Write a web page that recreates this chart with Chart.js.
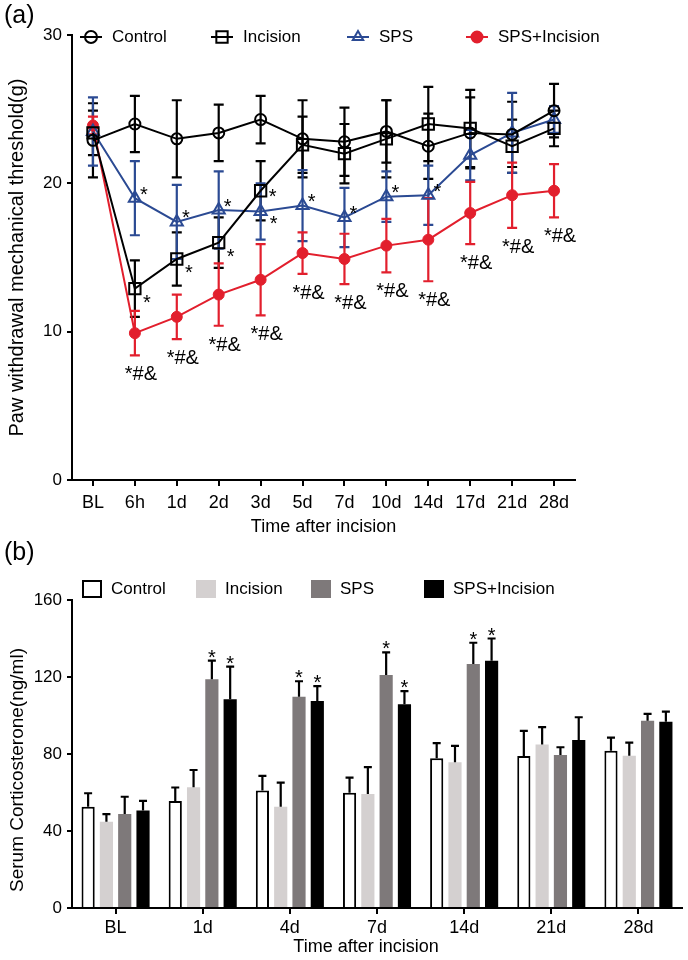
<!DOCTYPE html>
<html><head><meta charset="utf-8">
<script src="https://cdn.jsdelivr.net/npm/chart.js@4.4.1/dist/chart.umd.min.js"></script>
<style>
html,body{margin:0;padding:0;background:#fff;}
#wrap{position:relative;width:688px;height:960px;background:#fff;}
.box{position:absolute;left:0;width:688px;}
</style></head><body>
<div id="wrap">
<div class="box" style="top:0;height:540px"><canvas id="ca" width="688" height="540"></canvas></div>
<div class="box" style="top:540px;height:420px"><canvas id="cb" width="688" height="420"></canvas></div>
</div>
<script>
// ---------- Panel (a) data ----------
const timePointsA = ['BL','6h','1d','2d','3d','5d','7d','10d','14d','17d','21d','28d'];
const controlA     = [22.9, 24.0, 23.0, 23.4, 24.3, 23.0, 22.8, 23.5, 22.5, 23.4, 23.3, 24.9];
const controlAErr  = [2.5, 1.9, 2.6, 1.9, 1.6, 2.6, 2.3, 2.1, 2.2, 2.4, 2.2, 1.8];
const incisionA    = [23.4, 12.9, 14.9, 16.0, 19.5, 22.6, 22.0, 23.0, 24.0, 23.7, 22.5, 23.7];
const incisionAErr = [1.5, 1.9, 1.8, 1.7, 2.0, 1.9, 2.0, 2.6, 2.5, 2.6, 1.8, 1.2];
const spsA         = [23.5, 19.0, 17.4, 18.2, 18.1, 18.5, 17.7, 19.1, 19.2, 21.9, 23.4, 24.3];
const spsAErr      = [2.3, 2.5, 2.5, 2.6, 1.9, 2.4, 2.0, 1.7, 2.0, 1.7, 2.7, 0.9];
const spsIncA      = [23.9, 9.9, 11.0, 12.5, 13.5, 15.3, 14.9, 15.8, 16.2, 18.0, 19.2, 19.5];
const spsIncAErr   = [0.6, 1.5, 1.5, 2.1, 2.4, 1.4, 1.7, 1.8, 2.8, 2.1, 2.2, 1.8];
const sigIncisionA = ['', '*', '*', '*', '*', '', '', '', '', '', '', ''];
const sigSpsA      = ['', '*', '*', '*', '*', '*', '*', '*', '*', '', '', ''];
const sigSpsIncA   = ['', '*#&', '*#&', '*#&', '*#&', '*#&', '*#&', '*#&', '*#&', '*#&', '*#&', '*#&'];
const yTicksA = [0, 10, 20, 30];

// ---------- Panel (b) data ----------
const timePointsB = ['BL','1d','4d','7d','14d','21d','28d'];
const controlB     = [52.6, 55.6, 61.0, 59.9, 77.8, 79.0, 81.7];
const controlBErr  = [7.0, 7.0, 7.6, 7.8, 7.8, 13.0, 6.8];
const incisionB    = [44.8, 62.7, 52.6, 59.2, 75.7, 85.0, 79.1];
const incisionBErr = [4.0, 9.0, 12.5, 14.0, 8.5, 9.0, 6.8];
const spsB         = [48.8, 118.8, 109.8, 121.0, 126.8, 79.5, 97.3];
const spsBErr      = [9.0, 9.7, 8.0, 11.8, 11.0, 4.0, 3.5];
const spsIncB      = [50.6, 108.4, 107.5, 105.8, 128.5, 87.3, 96.8];
const spsIncBErr   = [5.0, 17.0, 7.8, 6.9, 11.5, 11.8, 5.2];
const sigSpsB      = ['', '*', '*', '*', '*', '', ''];
const sigSpsIncB   = ['', '*', '*', '*', '*', '', ''];
const yTicksB = [0, 40, 80, 120, 160];

const FONT = "'Liberation Sans', Arial, Helvetica, sans-serif";
Chart.defaults.font.family = FONT;
Chart.defaults.color = '#000';

const BLUE = '#2b4a93', RED = '#e21f2d';

function drawMarker(ctx, style, x, y, r, stroke, fill, bw) {
  ctx.save();
  ctx.lineWidth = bw; ctx.strokeStyle = stroke; ctx.fillStyle = fill;
  ctx.beginPath();
  if (style === 'circle') {
    ctx.arc(x, y, r, 0, Math.PI * 2);
  } else if (style === 'rect') {
    const s = r * Math.SQRT1_2;
    ctx.rect(x - s, y - s, 2 * s, 2 * s);
  } else if (style === 'triangle') {
    let a = 0;
    for (let k = 0; k < 3; k++) {
      const px = x + Math.sin(a) * r, py = y - Math.cos(a) * r;
      if (k === 0) ctx.moveTo(px, py); else ctx.lineTo(px, py);
      a += 2 * Math.PI / 3;
    }
    ctx.closePath();
  }
  ctx.fill(); ctx.stroke();
  ctx.restore();
}

// error bars plugin (both directions for lines, upward for bars)
const errorBars = {
  id: 'errorBars',
  beforeDatasetsDraw(chart) {
    if (chart.config.type !== 'line') return;
    drawErrors(chart);
  },
  afterDatasetsDraw(chart) {
    if (chart.config.type !== 'bar') return;
    drawErrors(chart);
  }
};
function drawErrors(chart) {
  const ctx = chart.ctx, ys = chart.scales.y;
  chart.data.datasets.forEach((ds, di) => {
    if (!ds.errors) return;
    const meta = chart.getDatasetMeta(di);
    ctx.save();
    ctx.strokeStyle = ds.errorColor; ctx.lineCap = 'butt';
    const cap = ds.capHalf;
    meta.data.forEach((el, i) => {
      const v = ds.data[i], e = ds.errors[i];
      const x = el.x;
      const top = ys.getPixelForValue(v + e);
      const bot = ds.errorUpOnly ? ys.getPixelForValue(v) : ys.getPixelForValue(v - e);
      ctx.beginPath();
      ctx.moveTo(x, bot); ctx.lineTo(x, top);
      ctx.moveTo(x - cap, top); ctx.lineTo(x + cap, top);
      if (!ds.errorUpOnly) { ctx.moveTo(x - cap, bot); ctx.lineTo(x + cap, bot); }
      ctx.lineWidth = 2.2;
      ctx.stroke();
    });
    ctx.restore();
  });
}

// significance annotations for panel (a)
const sigA = {
  id: 'sigA',
  afterDatasetsDraw(chart) {
    const ctx = chart.ctx, ys = chart.scales.y;
    const mInc = chart.getDatasetMeta(1), mSps = chart.getDatasetMeta(2), mRed = chart.getDatasetMeta(3);
    ctx.save();
    ctx.fillStyle = '#000';
    ctx.font = '20px ' + FONT;
    ctx.textBaseline = 'alphabetic';
    ctx.textAlign = 'center';
    // Incision stars
    sigIncisionA.forEach((s, i) => {
      if (!s) return;
      const el = mInc.data[i];
      const close = Math.abs(incisionA[i] - spsA[i]) < 2;
      ctx.fillText(s, el.x + 12, el.y + (close ? 1 : 9) + 11.5);
    });
    // SPS stars
    sigSpsA.forEach((s, i) => {
      if (!s) return;
      const el = mSps.data[i];
      const close = Math.abs(incisionA[i] - spsA[i]) < 2;
      ctx.fillText(s, el.x + (close ? 13 : 9), el.y + (close ? 7 : -9) + 11.5);
    });
    // SPS+Incision labels under the lower whisker
    sigSpsIncA.forEach((s, i) => {
      if (!s) return;
      const el = mRed.data[i];
      const low = ys.getPixelForValue(spsIncA[i] - spsIncAErr[i]);
      ctx.fillText(s, el.x + 6, low + 25);
    });
    ctx.restore();
  }
};

const legendA = {
  id: 'legendA',
  afterDraw(chart) {
    const ctx = chart.ctx;
    const xs = [91, 222, 358, 477];
    const y = 37;
    chart.data.datasets.forEach((ds, i) => {
      const cx = xs[i];
      ctx.save();
      ctx.strokeStyle = ds.borderColor; ctx.lineWidth = 2;
      ctx.beginPath(); ctx.moveTo(cx - 11, y); ctx.lineTo(cx + 11, y); ctx.stroke();
      drawMarker(ctx, ds.pointStyle, cx, y, ds.legendRadius, ds.pointBorderColor, ds.pointBackgroundColor, 2);
      ctx.fillStyle = '#000'; ctx.font = '17px ' + FONT;
      ctx.textBaseline = 'middle'; ctx.textAlign = 'left';
      ctx.fillText(ds.label, cx + 21, y);
      ctx.restore();
    });
    ctx.save();
    ctx.font = '25px ' + FONT; ctx.fillStyle = '#000';
    ctx.textAlign = 'left'; ctx.textBaseline = 'middle';
    ctx.fillText('(a)', 4, 16);
    ctx.restore();
  }
};

new Chart(document.getElementById('ca'), {
  type: 'line',
  data: {
    labels: timePointsA,
    datasets: [
      { label: 'Control', data: controlA, errors: controlAErr, errorColor: '#000', capHalf: 5,
        borderColor: '#000', borderWidth: 2, pointStyle: 'circle', pointRadius: 5.5, legendRadius: 6,
        pointBorderColor: '#000', pointBackgroundColor: 'rgba(0,0,0,0)', pointBorderWidth: 2 },
      { label: 'Incision', data: incisionA, errors: incisionAErr, errorColor: '#000', capHalf: 5,
        borderColor: '#000', borderWidth: 2, pointStyle: 'rect', pointRadius: 8, legendRadius: 8,
        pointBorderColor: '#000', pointBackgroundColor: 'rgba(0,0,0,0)', pointBorderWidth: 2 },
      { label: 'SPS', data: spsA, errors: spsAErr, errorColor: BLUE, capHalf: 5,
        borderColor: BLUE, borderWidth: 2, pointStyle: 'triangle', pointRadius: 7, legendRadius: 6,
        pointBorderColor: BLUE, pointBackgroundColor: 'rgba(0,0,0,0)', pointBorderWidth: 2 },
      { label: 'SPS+Incision', data: spsIncA, errors: spsIncAErr, errorColor: RED, capHalf: 5,
        borderColor: RED, borderWidth: 2, pointStyle: 'circle', pointRadius: 5.5, legendRadius: 5.5,
        pointBorderColor: RED, pointBackgroundColor: RED, pointBorderWidth: 1 }
    ]
  },
  options: {
    responsive: false, animation: false, events: [],
    layout: { padding: { top: 35, right: 113, left: 0, bottom: 0 } },
    plugins: { legend: { display: false }, tooltip: { enabled: false } },
    scales: {
      x: {
        offset: true,
        grid: { display: true, drawOnChartArea: false, drawTicks: true, tickLength: 6, color: '#000', lineWidth: 2, offset: false },
        border: { display: true, color: '#000', width: 2 },
        ticks: { font: { size: 18 }, color: '#000', padding: 6, maxRotation: 0, autoSkip: false },
        title: { display: true, text: 'Time after incision', font: { size: 18 }, color: '#000', padding: { top: 0, bottom: 2 } },
        afterFit(s) { s.height = 60; }
      },
      y: {
        min: 0, max: 30,
        afterBuildTicks(s) { s.ticks = yTicksA.map(v => ({ value: v })); },
        grid: { display: true, drawOnChartArea: false, drawTicks: true, tickLength: 5, color: '#000', lineWidth: 2 },
        border: { display: true, color: '#000', width: 2 },
        ticks: { font: { size: 17 }, color: '#000', padding: 5 },
        title: { display: true, text: 'Paw withdrawal mechanical threshold(g)', font: { size: 20 }, color: '#000', padding: { top: 5, bottom: 0 } },
        afterFit(s) { s.width = 72; }
      }
    }
  },
  plugins: [errorBars, sigA, legendA]
});

// ---------- Panel (b) ----------
const sigB = {
  id: 'sigB',
  afterDatasetsDraw(chart) {
    const ctx = chart.ctx, ys = chart.scales.y;
    ctx.save();
    ctx.fillStyle = '#000'; ctx.font = '20px ' + FONT;
    ctx.textAlign = 'center'; ctx.textBaseline = 'alphabetic';
    [[2, sigSpsB, spsB, spsBErr], [3, sigSpsIncB, spsIncB, spsIncBErr]].forEach(([di, sig, vals, errs]) => {
      const meta = chart.getDatasetMeta(di);
      sig.forEach((s, i) => {
        if (!s) return;
        const top = ys.getPixelForValue(vals[i] + errs[i]);
        ctx.fillText(s, meta.data[i].x, top + 3);
      });
    });
    ctx.restore();
  }
};
const legendB = {
  id: 'legendB',
  afterDraw(chart) {
    const ctx = chart.ctx;
    const xs = [82, 196, 311, 424];
    const y = 49;
    chart.data.datasets.forEach((ds, i) => {
      const bx = xs[i];
      ctx.save();
      ctx.fillStyle = ds.backgroundColor;
      ctx.fillRect(bx, y - 9, 20, 18);
      if (ds.borderWidth) {
        ctx.strokeStyle = ds.borderColor; ctx.lineWidth = 2;
        ctx.strokeRect(bx + 1, y - 8, 18, 16);
      }
      ctx.fillStyle = '#000'; ctx.font = '17px ' + FONT;
      ctx.textAlign = 'left'; ctx.textBaseline = 'middle';
      ctx.fillText(ds.label, bx + 29, y);
      ctx.restore();
    });
    ctx.save();
    ctx.fillStyle = '#000';
    ctx.font = '25px ' + FONT; ctx.textAlign = 'left'; ctx.textBaseline = 'middle';
    ctx.fillText('(b)', 4, 13);
    ctx.font = '18px ' + FONT; ctx.textAlign = 'center';
    ctx.fillText('Time after incision', 366, 407);
    // y-axis title
    ctx.translate(18, 230);
    ctx.rotate(-Math.PI / 2);
    ctx.font = '19px ' + FONT;
    ctx.fillText('Serum Corticosterone(ng/ml)', 0, 0);
    ctx.restore();
  }
};

const barCommon = { categoryPercentage: 0.84, barPercentage: 0.72, errorColor: '#000', capHalf: 4, errorUpOnly: true };
new Chart(document.getElementById('cb'), {
  type: 'bar',
  data: {
    labels: timePointsB,
    datasets: [
      Object.assign({ label: 'Control', data: controlB, errors: controlBErr, backgroundColor: '#ffffff', borderColor: '#000', borderWidth: 2 }, barCommon),
      Object.assign({ label: 'Incision', data: incisionB, errors: incisionBErr, backgroundColor: '#d4d0d0', borderWidth: 0 }, barCommon),
      Object.assign({ label: 'SPS', data: spsB, errors: spsBErr, backgroundColor: '#7e797a', borderWidth: 0 }, barCommon),
      Object.assign({ label: 'SPS+Incision', data: spsIncB, errors: spsIncBErr, backgroundColor: '#000000', borderWidth: 0 }, barCommon)
    ]
  },
  options: {
    responsive: false, animation: false, events: [],
    layout: { padding: { top: 60, right: 6, left: 0, bottom: 0 } },
    plugins: { legend: { display: false }, tooltip: { enabled: false } },
    scales: {
      x: {
        offset: true,
        grid: { display: true, drawOnChartArea: false, drawTicks: true, tickLength: 6, color: '#000', lineWidth: 2, offset: false },
        border: { display: true, color: '#000', width: 2 },
        ticks: { font: { size: 18 }, color: '#000', padding: 3, maxRotation: 0, autoSkip: false },
        afterFit(s) { s.height = 52; }
      },
      y: {
        min: 0, max: 160,
        afterBuildTicks(s) { s.ticks = yTicksB.map(v => ({ value: v })); },
        grid: { display: true, drawOnChartArea: false, drawTicks: true, tickLength: 5, color: '#000', lineWidth: 2 },
        border: { display: true, color: '#000', width: 2 },
        ticks: { font: { size: 17 }, color: '#000', padding: 5 },
        afterFit(s) { s.width = 72; }
      }
    }
  },
  plugins: [errorBars, sigB, legendB]
});
</script>
</body></html>
